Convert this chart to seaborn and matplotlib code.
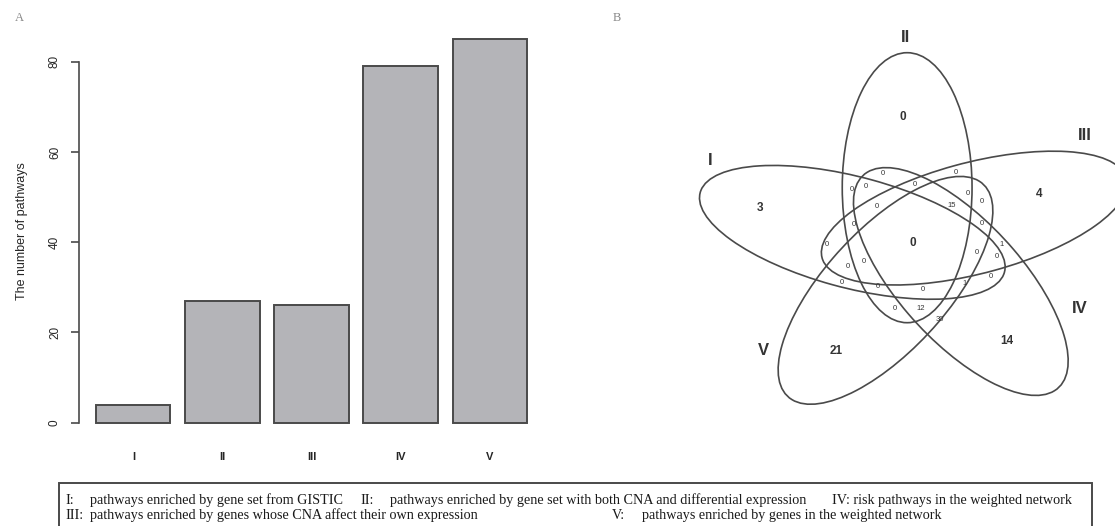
import matplotlib
matplotlib.use('Agg')
import matplotlib.pyplot as plt
from matplotlib.patches import Ellipse, Rectangle
import seaborn as sns
import pandas as pd
import numpy as np

W, H = 1115, 526

# Panel A data
categories = ['I', 'II', 'III', 'IV', 'V']
n_pathways = [4, 27, 26, 79, 85]

# Panel B data: set names and the 31 region counts of the 5-set Venn
set_names = ['I', 'II', 'III', 'IV', 'V']
region_counts = [0, 0, 0, 0, 0, 0, 15, 0, 0, 0, 0,
                 0, 0, 1, 0, 0, 0, 0, 0, 0, 0, 1,
                 0, 0, 12, 30, 14, 21, 4, 3, 0]

# layout of the Venn (pixel positions of the region labels)
region_xy = [(883, 173), (956, 172), (852, 189), (866, 186), (915, 184),
             (877, 206), (952, 205), (968, 193), (982, 201), (854, 224),
             (982, 223), (913, 243), (827, 244), (1002, 244), (977, 252),
             (997, 256), (864, 261), (848, 266), (842, 282), (878, 286),
             (923, 289), (965, 283), (991, 276), (895, 308), (921, 308),
             (940, 319), (1007, 341), (836, 351), (1039, 194), (760, 208),
             (903, 117)]
big_regions = {11, 26, 27, 28, 29, 30}
set_label_xy = [(710, 160), (905, 37), (1085, 135), (1080, 308), (763, 350)]
set_axis_angle = [162, 90, 18, -54, -126]

legend_line1 = [(65, 'I:'), (90, 'pathways enriched by gene set from GISTIC'),
                (360, 'II:'),
                (390, 'pathways enriched by gene set with both CNA and differential expression'),
                (832, 'IV: risk pathways in the weighted network')]
legend_line2 = [(65, 'III:'),
                (90, 'pathways enriched by genes whose CNA affect their own expression'),
                (612, 'V:'), (642, 'pathways enriched by genes in the weighted network')]

sns.set_style('white')
plt.rcParams['font.family'] = ['Liberation Sans', 'DejaVu Sans']

LINE = '#4a4a4a'

fig = plt.figure(figsize=(W / 100, H / 100), dpi=100)


def fig_xy(px, py):
    return px / W, 1 - py / H


# ---------------- Panel A: bar chart ----------------
ax = fig.add_axes([79 / W, 1 - 438 / H, (544 - 79) / W, (438 - 24) / H])
df = pd.DataFrame({'set': categories, 'n': n_pathways})
sns.barplot(data=df, x='set', y='n', color='#b4b4b8', saturation=1,
            width=1 / 1.2, edgecolor=LINE, linewidth=1.4, ax=ax)
ax.set_xlim(-0.61, 4.61)
ax.set_ylim(-3.4, 88.4)
for s in ['top', 'right', 'bottom']:
    ax.spines[s].set_visible(False)
ax.spines['left'].set_bounds(0, 80)
ax.spines['left'].set_color(LINE)
ax.spines['left'].set_linewidth(1.2)
ax.set_yticks([0, 20, 40, 60, 80])
ax.tick_params(axis='y', length=6, width=1.2, color=LINE, pad=7,
               labelsize=8.5, left=True)
for lab in ax.get_yticklabels():
    lab.set_rotation(90)
    lab.set_va('center')
ax.tick_params(axis='x', length=0, pad=10, labelsize=8)
for lab in ax.get_xticklabels():
    lab.set_fontweight('bold')
ax.set_xlabel('')
ax.set_ylabel('The number of pathways', fontsize=9)
ax.yaxis.set_label_coords(-0.11, 0.5)

# ---------------- Panel B: Venn diagram ----------------
CX, CY, SX = 916, 242, 1.18
a, b, d, p = 135, 55, 54.3, 7.5


def venn_uv(px, py):
    return (px - CX) / SX, CY - py


ax2 = fig.add_axes([620 / W, 1 - 440 / H, 495 / W, 440 / H])
ax2.set_xlim((620 - CX) / SX, (1115 - CX) / SX)
ax2.set_ylim(CY - 440, CY)
ax2.axis('off')

for ang in set_axis_angle:
    t = np.deg2rad(ang)
    cu = d * np.cos(t) - p * np.sin(t)
    cv = d * np.sin(t) + p * np.cos(t)
    ax2.add_patch(Ellipse((cu, cv), 2 * a, 2 * b, angle=ang, fill=False,
                          edgecolor=LINE, linewidth=1.2))

for name, (px, py) in zip(set_names, set_label_xy):
    u, v = venn_uv(px, py)
    ax2.text(u, v, name, fontsize=12, fontweight='bold', color='#333333',
             ha='center', va='center')

for i, (cnt, (px, py)) in enumerate(zip(region_counts, region_xy)):
    u, v = venn_uv(px, py)
    big = i in big_regions
    ax2.text(u, v, str(cnt), fontsize=8.5 if big else 5.5,
             fontweight='bold' if big else 'normal', color='#333333',
             ha='center', va='center')

# ---------------- panel letters ----------------
fig.text(*fig_xy(19, 18), 'A', fontsize=9, color='#888888',
         family='Liberation Serif', ha='center', va='center')
fig.text(*fig_xy(617, 18), 'B', fontsize=9, color='#888888',
         family='Liberation Serif', ha='center', va='center')

# ---------------- legend box ----------------
x0, y0 = fig_xy(59, 483)
x1, _ = fig_xy(1092, 483)
fig.patches.append(Rectangle((x0, -0.05), x1 - x0, y0 + 0.05,
                             transform=fig.transFigure, fill=False,
                             edgecolor=LINE, linewidth=1.4))
for row, py in [(legend_line1, 504), (legend_line2, 519)]:
    for px, txt in row:
        fig.text(*fig_xy(px, py), txt, fontsize=10.2, color='#1a1a1a',
                 family='Liberation Serif', ha='left', va='baseline')

fig.savefig('out.png', dpi=100, facecolor='white')
